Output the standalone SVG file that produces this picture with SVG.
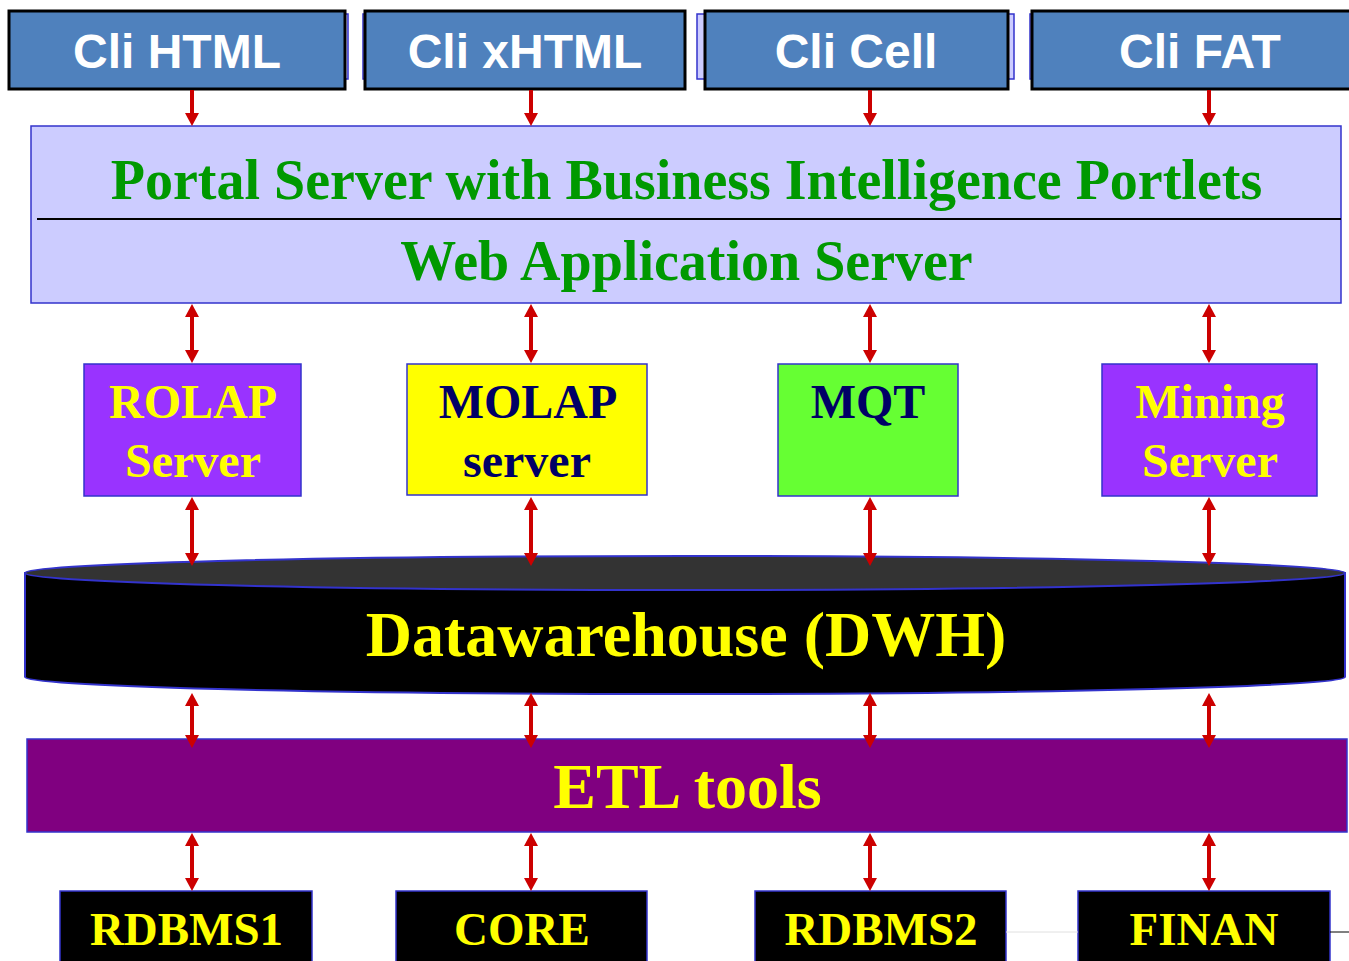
<svg xmlns="http://www.w3.org/2000/svg" width="1349" height="961" viewBox="0 0 1349 961">
<defs>
<style>
.cli{fill:#4f81bd;stroke:#000;stroke-width:3}
.shadow{fill:#ccccff;stroke:#3333cc;stroke-width:1.5}
.clitxt{font-family:"Liberation Sans",Arial,sans-serif;font-weight:bold;font-size:48px;fill:#fff;text-anchor:middle}
.serif{font-family:"Liberation Serif","Times New Roman",serif;font-weight:bold;text-anchor:middle}
.box{stroke:#3333cc;stroke-width:1.5}
.conn{stroke:#cc0000;stroke-width:4;fill:none}
.one{marker-end:url(#ah)}
.two{marker-start:url(#ah);marker-end:url(#ah)}
</style>
<marker id="ah" markerUnits="userSpaceOnUse" markerWidth="16" markerHeight="16" refX="5" refY="7.5" orient="auto-start-reverse" viewBox="0 0 16 15">
<path d="M0,0.5 L13,7.5 L0,14.5 Z" fill="#cc0000"/>
</marker>
</defs>
<rect width="1349" height="961" fill="#fff"/>

<g id="cli-html">
<rect class="shadow" x="14" y="14" width="334" height="65"/>
<rect class="cli" x="9" y="11" width="336" height="78"/>
<text class="clitxt" x="177" y="68">Cli HTML</text>
</g>
<g id="cli-xhtml">
<rect class="shadow" x="363" y="14" width="320" height="65"/>
<rect class="cli" x="365" y="11" width="320" height="78"/>
<text class="clitxt" x="525" y="68">Cli xHTML</text>
</g>
<g id="cli-cell">
<rect class="shadow" x="697" y="14" width="317" height="65"/>
<rect class="cli" x="705" y="11" width="303" height="78"/>
<text class="clitxt" x="856" y="68">Cli Cell</text>
</g>
<g id="cli-fat">
<rect class="shadow" x="1030" y="14" width="330" height="65"/>
<rect class="cli" x="1032" y="11" width="336" height="78"/>
<text class="clitxt" x="1200" y="68">Cli FAT</text>
</g>

<g id="portal">
<rect x="31" y="126" width="1310" height="177" fill="#ccccff" stroke="#3333cc" stroke-width="1.5"/>
<line x1="37" y1="219" x2="1341" y2="219" stroke="#000" stroke-width="2"/>
<text class="serif" x="686.5" y="199" font-size="56" fill="#009900">Portal Server with Business Intelligence Portlets</text>
<text class="serif" x="686.5" y="280" font-size="56" fill="#009900">Web Application Server</text>
</g>

<g id="rolap">
<rect class="box" x="84" y="364" width="217" height="132" fill="#9933ff"/>
<text class="serif" x="193" y="418" font-size="48" fill="#ffff00">ROLAP</text>
<text class="serif" x="193" y="477" font-size="48" fill="#ffff00">Server</text>
</g>
<g id="molap">
<rect class="box" x="407" y="364" width="240" height="131" fill="#ffff00"/>
<text class="serif" x="528" y="418" font-size="48" fill="#000066">MOLAP</text>
<text class="serif" x="527" y="477" font-size="48" fill="#000066">server</text>
</g>
<g id="mqt">
<rect class="box" x="778" y="364" width="180" height="132" fill="#66ff33"/>
<text class="serif" x="868" y="418" font-size="48" fill="#000066">MQT</text>
</g>
<g id="mining">
<rect class="box" x="1102" y="364" width="215" height="132" fill="#9933ff"/>
<text class="serif" x="1210" y="418" font-size="48" fill="#ffff00">Mining</text>
<text class="serif" x="1210" y="477" font-size="48" fill="#ffff00">Server</text>
</g>

<g id="dwh">
<path d="M25,573 L25,677 A660,17 0 0 0 1345,677 L1345,573 Z" fill="#000" stroke="#3333cc" stroke-width="2"/>
<ellipse cx="685" cy="573" rx="660" ry="17" fill="#333333" stroke="#3333cc" stroke-width="2"/>
<text class="serif" x="686" y="656" font-size="64" fill="#ffff00">Datawarehouse (DWH)</text>
</g>

<g id="etl">
<rect class="box" x="27" y="739" width="1320" height="93" fill="#800080"/>
<text class="serif" x="687.5" y="808" font-size="64" fill="#ffff00">ETL tools</text>
</g>

<g id="rdbms1">
<rect class="box" x="60" y="891" width="252" height="80" fill="#000"/>
<text class="serif" x="186.5" y="945" font-size="47" fill="#ffff00">RDBMS1</text>
</g>
<g id="core">
<rect class="box" x="396" y="891" width="251" height="80" fill="#000"/>
<text class="serif" x="522" y="945" font-size="47" fill="#ffff00">CORE</text>
</g>
<g id="rdbms2">
<rect class="box" x="755" y="891" width="251" height="80" fill="#000"/>
<text class="serif" x="881" y="945" font-size="47" fill="#ffff00">RDBMS2</text>
</g>
<g id="finan">
<rect class="box" x="1078" y="891" width="252" height="80" fill="#000"/>
<text class="serif" x="1204" y="945" font-size="47" fill="#ffff00">FINAN</text>
</g>

<g id="connectors">
<line x1="1006" y1="932" x2="1078" y2="932" stroke="#e0e0e0" stroke-width="1"/>
<line x1="1330" y1="932" x2="1349" y2="932" stroke="#000" stroke-width="1"/>
<g class="conn">
<line class="one" x1="192" y1="90" x2="192" y2="118"/>
<line class="one" x1="531" y1="90" x2="531" y2="118"/>
<line class="one" x1="870" y1="90" x2="870" y2="118"/>
<line class="one" x1="1209" y1="90" x2="1209" y2="118"/>

<line class="two" x1="192" y1="312" x2="192" y2="355"/>
<line class="two" x1="531" y1="312" x2="531" y2="355"/>
<line class="two" x1="870" y1="312" x2="870" y2="355"/>
<line class="two" x1="1209" y1="312" x2="1209" y2="355"/>

<line class="two" x1="192" y1="505" x2="192" y2="558"/>
<line class="two" x1="531" y1="505" x2="531" y2="558"/>
<line class="two" x1="870" y1="505" x2="870" y2="558"/>
<line class="two" x1="1209" y1="505" x2="1209" y2="558"/>

<line class="two" x1="192" y1="701" x2="192" y2="740"/>
<line class="two" x1="531" y1="701" x2="531" y2="740"/>
<line class="two" x1="870" y1="701" x2="870" y2="740"/>
<line class="two" x1="1209" y1="701" x2="1209" y2="740"/>

<line class="two" x1="192" y1="841" x2="192" y2="883"/>
<line class="two" x1="531" y1="841" x2="531" y2="883"/>
<line class="two" x1="870" y1="841" x2="870" y2="883"/>
<line class="two" x1="1209" y1="841" x2="1209" y2="883"/>
</g>
</g>
</svg>
